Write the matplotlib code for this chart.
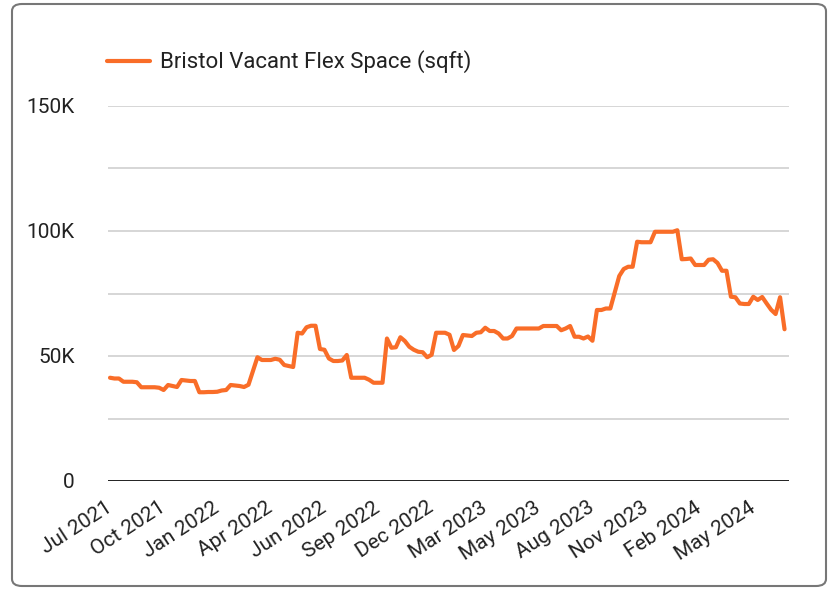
import matplotlib.pyplot as plt
from matplotlib.patches import FancyBboxPatch
from matplotlib.ticker import MultipleLocator, FuncFormatter

plt.rcParams['font.family'] = ['Roboto', 'DejaVu Sans']

# weekly vacant flex space in Bristol (thousand sqft), Jul 2021 - Jul 2024
vacant_k = [
    41.3, 41.0, 41.0, 39.7, 39.7, 39.7, 39.5, 37.5, 37.5, 37.5,
    37.5, 37.3, 36.4, 38.4, 38.0, 37.6, 40.4, 40.2, 40.0, 40.0,
    35.5, 35.5, 35.6, 35.6, 35.7, 36.2, 36.4, 38.4, 38.2, 38.0,
    37.6, 38.5, 44.0, 49.5, 48.4, 48.4, 48.4, 48.9, 48.5, 46.4,
    46.0, 45.6, 59.3, 59.0, 61.5, 62.1, 62.1, 52.8, 52.5, 49.0,
    48.0, 48.0, 48.2, 50.4, 41.3, 41.3, 41.3, 41.3, 40.5, 39.3,
    39.3, 39.3, 57.0, 53.3, 53.5, 57.5, 56.0, 53.7, 52.5, 51.7,
    51.5, 49.5, 50.5, 59.3, 59.3, 59.3, 58.5, 52.4, 54.0, 58.4,
    58.2, 58.0, 59.3, 59.5, 61.3, 60.0, 60.0, 59.0, 57.0, 57.0,
    58.0, 61.0, 61.0, 61.0, 61.0, 61.0, 61.0, 62.0, 62.0, 62.0,
    62.0, 60.3, 61.0, 62.0, 57.7, 57.7, 57.0, 57.8, 56.1, 68.4,
    68.4, 69.0, 69.0, 75.5, 82.0, 84.8, 85.7, 85.7, 95.7, 95.5,
    95.5, 95.5, 99.7, 99.7, 99.7, 99.7, 99.7, 100.3, 88.7, 88.8,
    89.0, 86.4, 86.4, 86.4, 88.5, 88.7, 87.2, 84.1, 84.1, 73.7,
    73.5, 71.0, 70.8, 70.8, 73.7, 72.4, 73.6, 71.0, 68.5, 66.8,
    73.5, 60.7,
]
vacant = [v * 1000 for v in vacant_k]

# a label every 12 weeks
tick_labels = ['Jul 2021', 'Oct 2021', 'Jan 2022', 'Apr 2022', 'Jun 2022',
               'Sep 2022', 'Dec 2022', 'Mar 2023', 'May 2023', 'Aug 2023',
               'Nov 2023', 'Feb 2024', 'May 2024']
tick_pos = [i * 12 for i in range(len(tick_labels))]

orange = '#f96d28'
text_col = '#222222'

fig = plt.figure(figsize=(8.33, 5.91), dpi=100)
ax = fig.add_axes([108 / 833, 110 / 591, 681 / 833, 375 / 591])

weeks = list(range(len(vacant)))
ax.plot(weeks, vacant, color=orange, lw=3.0, solid_joinstyle='round',
        solid_capstyle='round', label='Bristol Vacant Flex Space (sqft)', zorder=3)

ax.set_xlim(-0.45, 152.0)
ax.set_ylim(0, 150000)

ax.yaxis.set_major_locator(MultipleLocator(50000))
ax.yaxis.set_minor_locator(MultipleLocator(25000))
ax.yaxis.set_major_formatter(FuncFormatter(lambda v, p: '0' if v == 0 else f'{int(v / 1000)}K'))
ax.grid(axis='y', which='both', color='#cccccc', lw=1.1)
ax.axhline(0, color='#111111', lw=2, zorder=4)

ax.set_xticks(tick_pos)
ax.set_xticklabels(tick_labels, rotation=33, ha='right', va='center',
                   rotation_mode='anchor')
ax.tick_params(axis='x', length=0, pad=18, labelsize=15, labelcolor=text_col)
ax.tick_params(axis='y', which='both', length=0, pad=24, labelsize=15, labelcolor=text_col)

for s in ax.spines.values():
    s.set_visible(False)

fig.legend(loc='center left', bbox_to_anchor=(107 / 833, 1 - 62 / 591),
           frameon=False, fontsize=16, handlelength=1.95, handletextpad=0.45,
           borderpad=0, borderaxespad=0, labelcolor=text_col)

# rounded card border
fig.patches.append(FancyBboxPatch((12 / 833, 5 / 591), 814 / 833, 582 / 591,
                                  boxstyle='round,pad=0,rounding_size=0.012',
                                  transform=fig.transFigure, fill=False,
                                  edgecolor='#777777', lw=1.5))

fig.savefig('out.png', dpi=100)
